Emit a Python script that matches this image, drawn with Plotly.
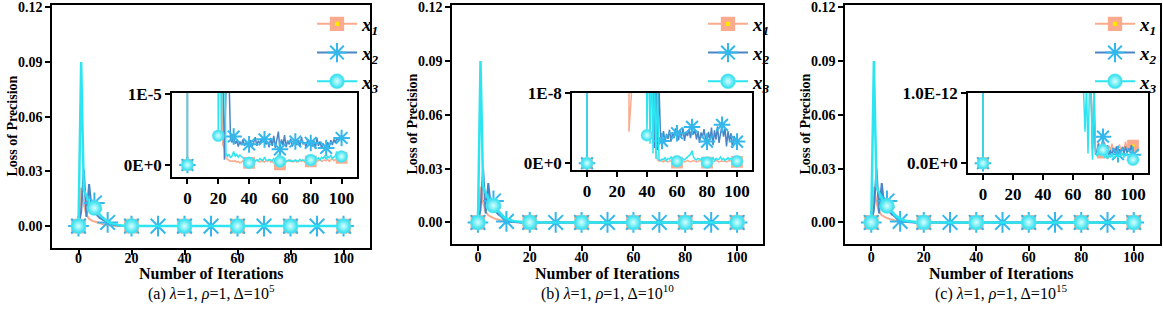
import plotly.graph_objects as go

W, H = 1163, 312
FONT = "Times New Roman, Liberation Serif, serif"

ITER = list(range(101))

# ---------------- panel (a)  Delta = 1e5 ----------------
X1_A = [
    0, 2.1e-2, 1.2e-2, 6.0e-3, 4.0e-3, 3.0e-3, 2.5e-3, 2.0e-3, 1.5e-3, 1.0e-3,
    7.0e-4, 5.0e-4, 3.2e-4, 2.0e-4, 1.3e-4, 8.0e-5, 5.0e-5, 3.5e-5, 2.6e-5, 2.0e-5,
    1.6e-5, 1.4e-5, 1.2e-5, 2.8e-6, 2.4e-6, 1.0e-6, 8.0e-7, 7.0e-7, 5.0e-7, 6.0e-7,
    5.0e-7, 6.0e-7, 4.0e-7, 5.0e-7, 3.0e-7, 4.0e-7, 6.0e-7, 4.0e-7, 3.0e-7, 4.0e-7,
    3.0e-7, 5.0e-7, 6.0e-7, 4.0e-7, 5.0e-7, 7.0e-7, 5.0e-7, 4.0e-7, 6.0e-7, 5.0e-7,
    4.0e-7, 6.0e-7, 5.0e-7, 7.0e-7, 4.0e-7, 5.0e-7, 3.0e-7, 4.0e-7, 5.0e-7, 3.0e-7,
    1.0e-7, 4.0e-7, 6.0e-7, 5.0e-7, 4.0e-7, 6.0e-7, 5.0e-7, 7.0e-7, 4.0e-7, 5.0e-7,
    6.0e-7, 4.0e-7, 5.0e-7, 6.0e-7, 5.0e-7, 7.0e-7, 4.0e-7, 5.0e-7, 6.0e-7, 5.0e-7,
    5.0e-7, 6.0e-7, 4.0e-7, 7.0e-7, 5.0e-7, 6.0e-7, 8.0e-7, 5.0e-7, 6.0e-7, 7.0e-7,
    6.0e-7, 8.0e-7, 5.0e-7, 7.0e-7, 9.0e-7, 6.0e-7, 8.0e-7, 9.0e-7, 1.0e-6, 9.0e-7,
    1.0e-6]
X2_A = [
    0, 8.0e-3, 3.1e-2, 5.0e-3, 2.3e-2, 9.0e-3, 1.27e-2, 6.0e-3, 4.5e-3, 3.5e-3,
    2.6e-3, 2.0e-3, 1.3e-3, 8.0e-4, 5.0e-4, 3.0e-4, 1.8e-4, 1.1e-4, 7.0e-5, 4.5e-5,
    3.0e-5, 2.2e-5, 1.7e-5, 1.4e-5, 7.5e-7, 1.6e-5, 2.0e-5, 1.2e-5, 3.5e-6, 3.2e-6,
    4.0e-6, 3.0e-6, 3.4e-6, 2.6e-6, 3.3e-6, 2.8e-6, 3.6e-6, 2.7e-6, 3.1e-6, 2.9e-6,
    2.9e-6, 3.5e-6, 2.6e-6, 3.2e-6, 3.9e-6, 2.7e-6, 3.4e-6, 3.0e-6, 3.7e-6, 3.2e-6,
    3.6e-6, 2.9e-6, 3.3e-6, 2.5e-6, 3.8e-6, 2.7e-6, 4.1e-6, 2.4e-6, 3.5e-6, 4.7e-6,
    2.2e-6, 3.6e-6, 2.8e-6, 4.2e-6, 2.5e-6, 3.4e-6, 2.9e-6, 3.7e-6, 2.6e-6, 3.1e-6,
    3.3e-6, 2.8e-6, 3.5e-6, 2.6e-6, 3.9e-6, 2.9e-6, 3.2e-6, 2.5e-6, 3.6e-6, 2.8e-6,
    3.1e-6, 2.6e-6, 3.4e-6, 2.3e-6, 3.8e-6, 2.7e-6, 3.3e-6, 2.4e-6, 3.0e-6, 2.6e-6,
    2.4e-6, 3.2e-6, 2.5e-6, 3.5e-6, 2.8e-6, 3.6e-6, 3.1e-6, 3.9e-6, 3.4e-6, 3.6e-6,
    3.8e-6]
X3_A = [
    0, 9.0e-2, 2.0e-2, 1.6e-2, 1.3e-2, 1.1e-2, 9.9e-3, 8.0e-3, 6.2e-3, 4.8e-3,
    3.6e-3, 2.6e-3, 1.8e-3, 1.2e-3, 8.0e-4, 5.0e-4, 3.0e-4, 1.9e-4, 1.2e-4, 7.0e-5,
    4.1e-6, 3.0e-5, 4.3e-6, 2.5e-5, 1.5e-5, 1.6e-6, 1.2e-6, 1.5e-6, 1.0e-6, 1.3e-6,
    1.9e-6, 1.2e-6, 1.5e-6, 1.1e-6, 1.4e-6, 1.2e-6, 1.0e-6, 7.0e-7, 5.0e-7, 4.0e-7,
    3.0e-7, 4.0e-7, 6.0e-7, 8.0e-7, 5.0e-7, 7.0e-7, 6.0e-7, 9.0e-7, 7.0e-7, 6.0e-7,
    1.1e-6, 7.0e-7, 6.0e-7, 8.0e-7, 7.0e-7, 6.0e-7, 9.0e-7, 7.0e-7, 8.0e-7, 1.5e-6,
    5.0e-7, 5.0e-7, 7.0e-7, 6.0e-7, 5.0e-7, 6.0e-7, 7.0e-7, 5.0e-7, 6.0e-7, 5.0e-7,
    7.0e-7, 6.0e-7, 5.0e-7, 8.0e-7, 6.0e-7, 7.0e-7, 6.0e-7, 8.0e-7, 7.0e-7, 9.0e-7,
    7.0e-7, 9.0e-7, 8.0e-7, 1.2e-6, 8.0e-7, 1.0e-6, 7.0e-7, 1.1e-6, 9.0e-7, 1.3e-6,
    8.0e-7, 1.2e-6, 1.0e-6, 1.4e-6, 9.0e-7, 1.1e-6, 1.3e-6, 1.9e-6, 1.0e-6, 1.2e-6,
    1.2e-6]

# ---------------- panel (b)  Delta = 1e10 ----------------
X1_B = [
    0, 2.0e-2, 1.1e-2, 6.0e-3, 4.0e-3, 3.0e-3, 2.4e-3, 1.9e-3, 1.4e-3, 1.0e-3,
    7.0e-4, 4.8e-4, 3.2e-4, 2.1e-4, 1.4e-4, 9.0e-5, 6.0e-5, 4.0e-5, 2.6e-5, 1.7e-5,
    1.1e-5, 7.0e-6, 4.5e-6, 2.9e-6, 1.9e-6, 1.2e-6, 8.0e-7, 5.0e-7, 4.5e-9, 2.2e-7,
    1.4e-7, 9.0e-8, 6.0e-8, 4.5e-8, 3.5e-8, 2.8e-8, 2.3e-8, 1.9e-8, 1.6e-8, 1.4e-8,
    1.3e-8, 1.2e-8, 1.15e-8, 1.1e-8, 1.05e-8, 8.0e-9, 2.0e-9, 5.0e-10, 3.0e-10, 4.0e-10,
    3.0e-10, 2.0e-10, 4.0e-10, 3.0e-10, 2.0e-10, 3.0e-10, 4.0e-10, 2.0e-10, 3.0e-10, 2.0e-10,
    1.0e-10, 3.0e-10, 2.0e-10, 4.0e-10, 3.0e-10, 2.0e-10, 3.0e-10, 4.0e-10, 3.0e-10, 2.0e-10,
    3.0e-10, 4.0e-10, 3.0e-10, 2.0e-10, 3.0e-10, 4.0e-10, 3.0e-10, 2.0e-10, 3.0e-10, 2.0e-10,
    1.0e-10, 2.0e-10, 3.0e-10, 4.0e-10, 2.0e-10, 3.0e-10, 4.0e-10, 3.0e-10, 2.0e-10, 3.0e-10,
    3.0e-10, 4.0e-10, 3.0e-10, 2.0e-10, 3.0e-10, 4.0e-10, 3.0e-10, 2.0e-10, 3.0e-10, 2.0e-10,
    2.0e-10]
X2_B = [
    0, 7.0e-3, 3.0e-2, 5.0e-3, 2.2e-2, 8.5e-3, 1.2e-2, 5.8e-3, 4.3e-3, 3.3e-3,
    1.6e-3, 6.0e-4, 3.5e-4, 2.2e-4, 1.4e-4, 9.0e-5, 6.0e-5, 4.0e-5, 2.7e-5, 1.8e-5,
    1.2e-5, 8.0e-6, 5.5e-6, 3.8e-6, 2.6e-6, 1.8e-6, 1.2e-6, 8.0e-7, 5.5e-7, 3.8e-7,
    2.6e-7, 1.8e-7, 1.3e-7, 9.0e-8, 6.5e-8, 4.8e-8, 3.6e-8, 2.8e-8, 2.2e-8, 1.8e-8,
    1.6e-8, 1.5e-8, 1.4e-8, 1.3e-8, 1.25e-8, 2.2e-9, 1.2e-8, 1.9e-9, 1.1e-8, 4.0e-9,
    3.2e-9, 4.6e-9, 3.0e-9, 4.2e-9, 3.5e-9, 4.8e-9, 3.1e-9, 4.4e-9, 3.6e-9, 5.0e-9,
    4.3e-9, 3.3e-9, 4.7e-9, 3.8e-9, 5.0e-9, 3.2e-9, 4.5e-9, 3.9e-9, 4.9e-9, 3.6e-9,
    5.2e-9, 4.1e-9, 4.8e-9, 3.4e-9, 4.6e-9, 2.9e-9, 4.4e-9, 3.7e-9, 4.9e-9, 3.5e-9,
    3.1e-9, 4.5e-9, 3.3e-9, 5.1e-9, 2.6e-9, 4.7e-9, 3.4e-9, 5.3e-9, 2.9e-9, 4.6e-9,
    5.5e-9, 3.8e-9, 5.0e-9, 2.4e-9, 4.6e-9, 3.2e-9, 4.3e-9, 2.2e-9, 3.9e-9, 3.4e-9,
    3.1e-9]
X3_B = [
    0, 9.0e-2, 2.0e-2, 1.6e-2, 1.3e-2, 1.1e-2, 9.4e-3, 7.5e-3, 5.8e-3, 4.4e-3,
    3.2e-3, 2.3e-3, 1.6e-3, 1.1e-3, 7.5e-4, 5.0e-4, 3.3e-4, 2.2e-4, 1.4e-4, 9.0e-5,
    6.0e-5, 4.0e-5, 2.6e-5, 1.7e-5, 1.1e-5, 7.0e-6, 4.5e-6, 2.9e-6, 1.9e-6, 1.2e-6,
    8.0e-7, 5.2e-7, 3.4e-7, 2.2e-7, 1.5e-7, 1.0e-7, 7.0e-8, 4.8e-8, 3.4e-8, 2.5e-8,
    4.0e-9, 2.0e-8, 2.8e-9, 1.6e-8, 1.4e-9, 1.3e-8, 6.0e-10, 1.1e-8, 5.0e-10, 4.0e-10,
    6.0e-10, 5.0e-10, 8.0e-10, 4.0e-10, 7.0e-10, 6.0e-10, 9.0e-10, 5.0e-10, 7.0e-10, 6.0e-10,
    3.0e-10, 7.0e-10, 5.0e-10, 8.0e-10, 6.0e-10, 5.0e-10, 7.0e-10, 9.0e-10, 1.0e-9, 1.3e-9,
    1.8e-9, 9.0e-10, 6.0e-10, 5.0e-10, 7.0e-10, 6.0e-10, 5.0e-10, 8.0e-10, 6.0e-10, 5.0e-10,
    1.0e-10, 4.0e-10, 6.0e-10, 5.0e-10, 8.0e-10, 4.0e-10, 7.0e-10, 5.0e-10, 6.0e-10, 9.0e-10,
    5.0e-10, 7.0e-10, 4.0e-10, 6.0e-10, 8.0e-10, 5.0e-10, 7.0e-10, 6.0e-10, 5.0e-10, 4.0e-10,
    3.0e-10]

# ---------------- panel (c)  Delta = 1e15 ----------------
X1_C = [
    0, 2.0e-2, 1.1e-2, 6.0e-3, 4.0e-3, 3.0e-3, 2.4e-3, 1.9e-3, 1.4e-3, 1.0e-3,
    7.0e-4, 4.8e-4, 3.2e-4, 2.1e-4, 1.4e-4, 9.0e-5, 6.0e-5, 4.0e-5, 2.6e-5, 1.7e-5,
    1.1e-5, 7.0e-6, 4.5e-6, 2.9e-6, 1.9e-6, 1.2e-6, 8.0e-7, 5.0e-7, 3.2e-7, 2.1e-7,
    1.4e-7, 9.0e-8, 6.0e-8, 4.0e-8, 2.6e-8, 1.7e-8, 1.1e-8, 7.0e-9, 4.5e-9, 2.9e-9,
    1.9e-9, 1.2e-9, 8.0e-10, 5.0e-10, 3.2e-10, 2.1e-10, 1.4e-10, 9.0e-11, 6.0e-11, 4.0e-11,
    2.6e-11, 1.7e-11, 1.1e-11, 7.5e-12, 5.0e-12, 3.5e-12, 2.6e-12, 2.0e-12, 1.7e-12, 1.5e-12,
    1.4e-12, 1.3e-12, 1.25e-12, 1.2e-12, 1.15e-12, 1.1e-12, 1.1e-12, 1.05e-12, 1.05e-12, 1.1e-12,
    1.1e-12, 1.05e-12, 1.1e-12, 1.1e-13, 1.2e-12, 2.0e-13, 1.5e-13, 3.0e-13, 1.8e-13, 2.6e-13,
    1.5e-13, 3.0e-13, 2.2e-13, 1.4e-13, 2.5e-13, 1.8e-13, 2.8e-13, 1.6e-13, 2.2e-13, 1.2e-13,
    2.0e-13, 2.7e-13, 1.5e-13, 2.4e-13, 1.9e-13, 3.1e-13, 2.2e-13, 1.8e-13, 2.6e-13, 2.3e-13,
    2.5e-13]
X2_C = [
    0, 7.0e-3, 3.0e-2, 5.0e-3, 2.2e-2, 8.5e-3, 1.2e-2, 5.8e-3, 4.3e-3, 3.3e-3,
    1.6e-3, 6.0e-4, 3.5e-4, 2.2e-4, 1.4e-4, 9.0e-5, 6.0e-5, 4.0e-5, 2.7e-5, 1.8e-5,
    1.2e-5, 8.0e-6, 5.5e-6, 3.8e-6, 2.6e-6, 1.8e-6, 1.2e-6, 8.0e-7, 5.5e-7, 3.8e-7,
    2.6e-7, 1.8e-7, 1.3e-7, 9.0e-8, 6.5e-8, 4.5e-8, 3.1e-8, 2.1e-8, 1.4e-8, 9.5e-9,
    6.5e-9, 4.4e-9, 3.0e-9, 2.0e-9, 1.35e-9, 9.0e-10, 6.0e-10, 4.0e-10, 2.7e-10, 1.8e-10,
    1.2e-10, 8.0e-11, 5.5e-11, 3.7e-11, 2.5e-11, 1.7e-11, 1.15e-11, 8.0e-12, 5.5e-12, 3.8e-12,
    2.8e-12, 2.2e-12, 1.8e-12, 1.6e-12, 1.5e-12, 1.4e-12, 1.35e-12, 1.3e-12, 1.25e-12, 1.2e-12,
    1.15e-12, 1.1e-12, 1.1e-12, 2.0e-13, 7.6e-13, 1.2e-13, 1.8e-13, 2.8e-13, 1.6e-13, 2.2e-13,
    3.8e-13, 2.0e-13, 1.4e-13, 2.6e-13, 1.2e-13, 1.9e-13, 1.0e-13, 2.2e-13, 1.5e-13, 2.4e-13,
    1.3e-13, 2.0e-13, 1.6e-13, 2.3e-13, 1.4e-13, 2.4e-13, 1.5e-13, 2.1e-13, 1.8e-13, 2.6e-13,
    1.2e-13]
X3_C = [
    0, 9.0e-2, 2.0e-2, 1.6e-2, 1.3e-2, 1.1e-2, 9.2e-3, 7.4e-3, 5.7e-3, 4.3e-3,
    3.1e-3, 2.2e-3, 1.5e-3, 1.0e-3, 7.0e-4, 4.7e-4, 3.1e-4, 2.0e-4, 1.3e-4, 8.5e-5,
    5.5e-5, 3.6e-5, 2.3e-5, 1.5e-5, 9.5e-6, 6.0e-6, 3.8e-6, 2.4e-6, 1.5e-6, 9.5e-7,
    6.0e-7, 3.8e-7, 2.4e-7, 1.5e-7, 9.5e-8, 6.0e-8, 3.8e-8, 2.4e-8, 1.5e-8, 9.5e-9,
    6.0e-9, 3.8e-9, 2.4e-9, 1.5e-9, 9.5e-10, 6.0e-10, 3.8e-10, 2.4e-10, 1.5e-10, 9.5e-11,
    6.0e-11, 3.8e-11, 2.4e-11, 1.5e-11, 9.5e-12, 6.0e-12, 4.0e-12, 2.8e-12, 2.0e-12, 1.6e-12,
    1.4e-12, 1.3e-12, 1.2e-12, 1.15e-12, 1.1e-12, 1.08e-12, 1.06e-12, 1.05e-12, 4.5e-13, 1.1e-12,
    1.4e-13, 1.1e-12, 1.05e-12, 5.0e-14, 1.1e-12, 1.6e-13, 1.0e-13, 1.4e-13, 1.2e-13, 1.9e-13,
    1.9e-13, 8.0e-14, 1.3e-13, 6.0e-14, 1.1e-13, 9.0e-14, 1.4e-13, 7.0e-14, 1.0e-13, 1.2e-13,
    8.0e-14, 1.3e-13, 1.0e-13, 1.5e-13, 9.0e-14, 1.2e-13, 1.4e-13, 8.0e-14, 1.1e-13, 7.0e-14,
    5.0e-14]

for arr in (X1_A, X2_A, X3_A, X1_B, X2_B, X3_B, X1_C, X2_C, X3_C):
    assert len(arr) == 101, len(arr)

# marker positions (iteration indices where symbols are drawn)
MARK_X1 = [0, 20, 40, 60, 80, 100]
MARK_X2 = [0, 6, 11, 20, 30, 40, 50, 60, 70, 80, 90, 100]
MARK_X3 = [0, 6, 20, 40, 60, 80, 100]

MAIN_YTICKS = [0, 0.03, 0.06, 0.09, 0.12]
MAIN_YTEXT = ["0.00", "0.03", "0.06", "0.09", "0.12"]
XTICKS = [0, 20, 40, 60, 80, 100]

SALMON = "#FBAA8E"
BLUE = "#4A86C6"
CYAN = "#2CE5F0"

PANELS = [
    dict(data=(X1_A, X2_A, X3_A), main=(52, 370, 5, 248), inset=(172, 357, 93, 177),
         irange=[-1.69e-6, 1.012e-5], itop=1e-5, itext=["0E+0", "1E-5"],
         ylab_x=12, center=211, legend=(312, 5), standoff=-9,
         caption="(a) <i>λ</i>=1, <i>ρ</i>=1, Δ=10<sup>5</sup>"),
    dict(data=(X1_B, X2_B, X3_B), main=(452, 763, 5, 244), inset=(572, 752, 93, 170),
         irange=[-0.96e-9, 1.005e-8], itop=1e-8, itext=["0E+0", "1E-8"],
         ylab_x=412, center=607, legend=(703, 5), standoff=-6,
         caption="(b) <i>λ</i>=1, <i>ρ</i>=1, Δ=10<sup>10</sup>"),
    dict(data=(X1_C, X2_C, X3_C), main=(845, 1160, 5, 244), inset=(968, 1148, 93, 173),
         irange=[-1.4e-13, 1.005e-12], itop=1e-12, itext=["0.0E+0", "1.0E-12"],
         ylab_x=805, center=1001, legend=(1090, 5), standoff=-6,
         caption="(c) <i>λ</i>=1, <i>ρ</i>=1, Δ=10<sup>15</sup>"),
]

fig = go.Figure()
layout = dict(width=W, height=H, margin=dict(l=0, r=0, t=0, b=0, autoexpand=False),
              paper_bgcolor="white", plot_bgcolor="white", showlegend=True,
              font=dict(family=FONT, color="black"))
annotations = []


def fx(p):
    return p / W


def fy(p):
    return 1 - p / H


def add_series(data, xa, ya, lw, msize, legend_name=None):
    x1, x2, x3 = data
    specs = [
        (x1, SALMON, MARK_X1,
         dict(symbol="square", size=msize * 0.62, color="#FFE600",
              line=dict(color=SALMON, width=msize * 0.36)), "<b><i>x<sub>1</sub></i></b>"),
        (x2, BLUE, MARK_X2,
         dict(symbol="asterisk-open", size=msize * 1.15, color="#34B8EC",
              line=dict(color="#34B8EC", width=2)), "<b><i>x<sub>2</sub></i></b>"),
        (x3, CYAN, MARK_X3,
         dict(symbol="circle", size=msize, color="#22DDEE",
              gradient=dict(type="radial", color="#D9FFFF"),
              line=dict(color="#7FE9F2", width=0.5)), "<b><i>x<sub>3</sub></i></b>"),
    ]
    for k, (ys, col, marks, mk, name) in enumerate(specs):
        fig.add_trace(go.Scatter(x=ITER, y=ys, mode="lines", xaxis=xa, yaxis=ya,
                                 line=dict(color=col, width=lw[k]), showlegend=False,
                                 hoverinfo="skip"))
        fig.add_trace(go.Scatter(x=[ITER[i] for i in marks], y=[ys[i] for i in marks],
                                 mode="markers", xaxis=xa, yaxis=ya, marker=mk,
                                 showlegend=False, hoverinfo="skip"))
        if legend_name:
            fig.add_trace(go.Scatter(x=[None], y=[None], mode="lines+markers",
                                     xaxis=xa, yaxis=ya, name=name,
                                     line=dict(color=col, width=2), marker=mk,
                                     legend=legend_name, legendgroup=legend_name + str(k),
                                     showlegend=True))


axis_common = dict(showline=True, linecolor="black", linewidth=1.5, mirror=True,
                   ticks="outside", tickcolor="black", tickwidth=1.5, showgrid=False,
                   zeroline=False, automargin=False)

for p_i, P in enumerate(PANELS):
    mx = 2 * p_i + 1
    ix = 2 * p_i + 2
    mxa = "x" if mx == 1 else f"x{mx}"
    mya = "y" if mx == 1 else f"y{mx}"
    ixa = f"x{ix}"
    iya = f"y{ix}"
    l, r, t, b = P["main"]
    layout["xaxis" if mx == 1 else f"xaxis{mx}"] = dict(
        axis_common, domain=[fx(l), fx(r)], range=[-10, 110], anchor=mya,
        tickvals=XTICKS, ticklen=5, ticklabelstandoff=P["standoff"],
        tickfont=dict(family=FONT, size=14, weight="bold", color="black"))
    layout["yaxis" if mx == 1 else f"yaxis{mx}"] = dict(
        axis_common, domain=[fy(b), fy(t)], range=[-0.012, 0.1212], anchor=mxa,
        tickvals=MAIN_YTICKS, ticktext=MAIN_YTEXT, ticklen=5,
        tickfont=dict(family=FONT, size=14, weight="bold", color="black"))
    il, ir, it, ib = P["inset"]
    layout[f"xaxis{ix}"] = dict(
        axis_common, domain=[fx(il), fx(ir)], range=[-10, 110], anchor=iya,
        tickvals=XTICKS, ticklen=5,
        tickfont=dict(family=FONT, size=17, weight="bold", color="black"))
    layout[f"yaxis{ix}"] = dict(
        axis_common, domain=[fy(ib), fy(it)], range=P["irange"], anchor=ixa,
        tickvals=[0, P["itop"]], ticktext=P["itext"], ticklen=5,
        tickfont=dict(family=FONT, size=17, weight="bold", color="black"))

    lname = "legend" if p_i == 0 else f"legend{p_i + 1}"
    add_series(P["data"], mxa, mya, lw=(2, 2, 2.5), msize=15, legend_name=lname)
    add_series(P["data"], ixa, iya, lw=(1.5, 1.5, 1.5), msize=12)

    lx, ly = P["legend"]
    layout[lname] = dict(x=fx(lx), y=fy(ly), xanchor="left", yanchor="top",
                         bgcolor="rgba(0,0,0,0)", tracegroupgap=1, itemsizing="trace",
                         itemwidth=40,
                         font=dict(family=FONT, size=19, color="black"))

    annotations.append(dict(text="<b>Loss of Precision</b>", x=fx(P["ylab_x"]),
                            y=fy((t + b) / 2), xref="paper", yref="paper",
                            xanchor="center", yanchor="middle",
                            textangle=-90, showarrow=False,
                            font=dict(family=FONT, size=14, color="black")))
    annotations.append(dict(text="<b>Number of Iterations</b>", x=fx(P["center"]),
                            y=fy(273), xref="paper", yref="paper", showarrow=False,
                            xanchor="center", yanchor="middle",
                            font=dict(family=FONT, size=16, color="black")))
    annotations.append(dict(text=P["caption"], x=fx(P["center"]), y=fy(292),
                            xref="paper", yref="paper", showarrow=False,
                            xanchor="center", yanchor="middle",
                            font=dict(family=FONT, size=16, color="black")))

layout["annotations"] = annotations
fig.update_layout(**layout)
fig.write_html("out.html", config={"displayModeBar": False},
               post_script="document.body.style.margin='0';document.body.style.overflow='hidden';")
